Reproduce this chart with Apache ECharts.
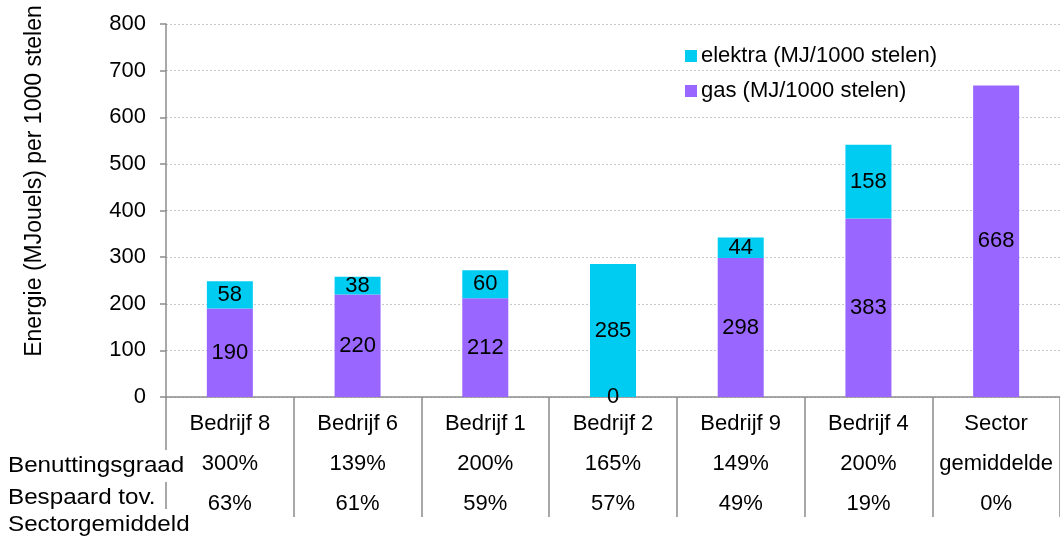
<!DOCTYPE html>
<html>
<head>
<meta charset="utf-8">
<script src="https://cdn.jsdelivr.net/npm/echarts@6/dist/echarts.min.js"></script>
<style>
  html, body { margin: 0; padding: 0; background: #fff; }
  #chart { width: 1060px; height: 536px; }
</style>
</head>
<body>
<div id="chart"></div>
<script>
// Categories and energy use per 1000 stems
const categories = ['Bedrijf 8', 'Bedrijf 6', 'Bedrijf 1', 'Bedrijf 2', 'Bedrijf 9', 'Bedrijf 4', 'Sector\ngemiddelde'];
const gasValues = [190, 220, 212, 0, 298, 383, 668];
const elektraValues = [58, 38, 60, 285, 44, 158, null];

// Data table rows below the axis
const benuttingsgraad = ['300%', '139%', '200%', '165%', '149%', '200%', ''];
const bespaard = ['63%', '61%', '59%', '57%', '49%', '19%', '0%'];

const yTicks = { min: 0, max: 800, interval: 100 };

const FONT = 'Liberation Sans, Arial, sans-serif';
const FS = 22;
const CYAN = '#00CCF2';
const PURPLE = '#9966FF';
const AXIS = '#8C8C8C';

const chart = echarts.init(document.getElementById('chart'));

const labelStyle = {
  show: true,
  position: 'inside',
  color: '#000',
  fontFamily: FONT,
  fontSize: FS
};

// Row headers of the data table, slightly widened like the table text
const rowLabel = (text, y) => ({
  type: 'text', x: 8, y: y, z: 100, scaleX: 1.1,
  style: {
    text: text, fill: '#000', font: FS + 'px ' + FONT,
    verticalAlign: 'middle', backgroundColor: '#fff', padding: [5, 0, 5, 0]
  }
});

chart.setOption({
  animation: false,
  backgroundColor: '#fff',
  textStyle: { fontFamily: FONT },
  grid: { left: 166, top: 24, width: 906, bottom: 139, containLabel: false },
  legend: {
    orient: 'vertical',
    left: 680,
    top: 40,
    itemWidth: 12,
    itemHeight: 12,
    itemGap: 13,
    icon: 'rect',
    textStyle: { fontFamily: FONT, fontSize: FS, color: '#000', padding: [0, 0, 0, -1] },
    data: ['elektra (MJ/1000 stelen)', 'gas (MJ/1000 stelen)']
  },
  xAxis: {
    type: 'category',
    data: categories,
    axisLine: { show: true, lineStyle: { color: AXIS, width: 1.5 } },
    axisTick: { show: true, length: 120, alignWithLabel: false, lineStyle: { color: AXIS, width: 1.5 } },
    axisLabel: {
      interval: 0,
      margin: 7,
      color: '#000',
      fontFamily: FONT,
      fontSize: FS,
      lineHeight: 40,
      formatter: function (value, idx) {
        const lines = value.split('\n');
        if (lines.length > 1) {
          return lines.concat([bespaard[idx]]).join('\n');
        }
        return [value, benuttingsgraad[idx], bespaard[idx]].join('\n');
      }
    },
    splitLine: { show: false }
  },
  yAxis: {
    type: 'value',
    min: yTicks.min,
    max: yTicks.max,
    interval: yTicks.interval,
    axisLine: { show: true, lineStyle: { color: AXIS, width: 1.5 } },
    axisTick: { show: true, length: 6, lineStyle: { color: AXIS, width: 1.5 } },
    axisLabel: { color: '#000', fontFamily: FONT, fontSize: FS, margin: 20 },
    splitLine: { show: true, lineStyle: { color: '#C8C8C8', type: [2, 2], width: 1 } }
  },
  series: [
    {
      name: 'gas (MJ/1000 stelen)',
      type: 'bar',
      stack: 'energie',
      barWidth: 46,
      data: gasValues,
      itemStyle: { color: PURPLE },
      label: labelStyle
    },
    {
      name: 'elektra (MJ/1000 stelen)',
      type: 'bar',
      stack: 'energie',
      barWidth: 46,
      data: elektraValues,
      itemStyle: { color: CYAN },
      label: labelStyle
    }
  ],
  graphic: [
    {
      type: 'text',
      x: 35, y: 181,
      rotation: Math.PI / 2,
      style: {
        text: 'Energie (MJouels) per 1000 stelen',
        fill: '#000', font: '23px ' + FONT,
        align: 'center', verticalAlign: 'middle'
      }
    },
    rowLabel('Benuttingsgraad', 466),
    rowLabel('Bespaard tov.', 498),
    rowLabel('Sectorgemiddeld', 525)
  ]
});
</script>
</body>
</html>
